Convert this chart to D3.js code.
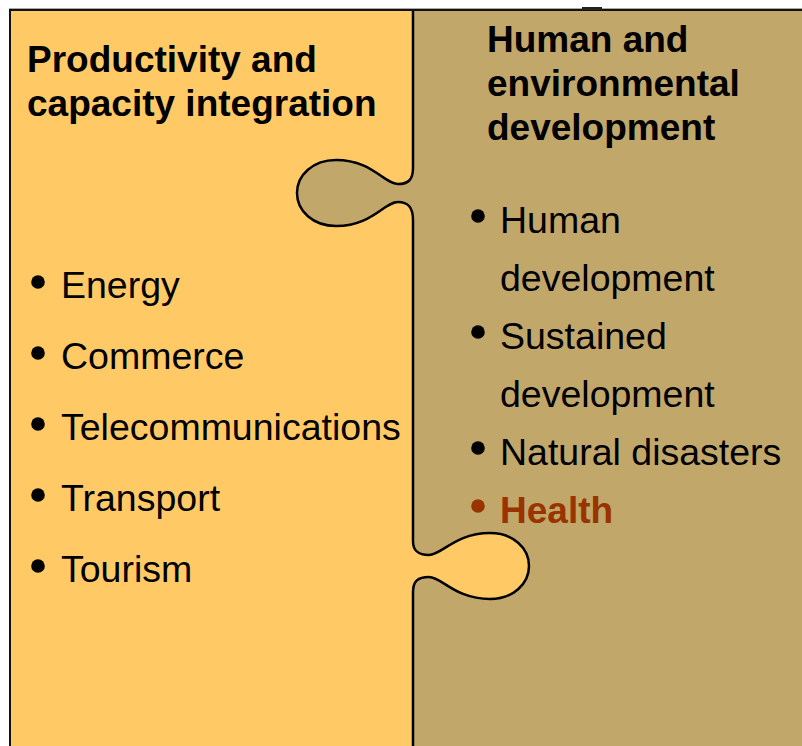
<!DOCTYPE html>
<html>
<head>
<meta charset="utf-8">
<script src="https://cdn.jsdelivr.net/npm/d3@7"></script>
<style>
  body { margin: 0; background: #fff; }
  svg { display: block; }
  text { font-family: "Liberation Sans", Arial, sans-serif; }
</style>
</head>
<body>
<div id="chart"></div>
<script>
// Panel titles
const leftTitle = ["Productivity and", "capacity integration"];
const rightTitle = ["Human and", "environmental", "development"];

// Left list
const leftItems = ["Energy", "Commerce", "Telecommunications", "Transport", "Tourism"];

// Right list (wrapped lines; bullet only on first line of an item)
const rightLines = ["Human", "development", "Sustained", "development", "Natural disasters", "Health"];
const rightBullets = [true, false, true, false, true, true];
const highlighted = ["Health"];

const W = 802, H = 746;
const leftColor = "#FFCA66";
const rightColor = "#C2A76B";
const accent = "#993300";
const titleSize = 37;
const itemSize = 37.5;

const svg = d3.select("#chart")
  .append("svg")
  .attr("width", W)
  .attr("height", H);

// row scales
const leftY = d3.scaleLinear().domain([0, leftItems.length - 1]).range([298, 582]);
const rightY = d3.scaleLinear().domain([0, rightLines.length - 1]).range([233, 523]);
const leftTitleY = d3.scaleLinear().domain([0, 1]).range([72, 116]);
const rightTitleY = d3.scaleLinear().domain([0, 1]).range([52, 96]);

// left panel background
svg.append("rect")
  .attr("x", 10).attr("y", 10)
  .attr("width", W).attr("height", H)
  .attr("fill", leftColor);

// divider with the two puzzle tabs
const divider = d3.path();
divider.moveTo(413, 10);
divider.lineTo(413, 168);
divider.bezierCurveTo(413, 180, 408, 184, 398, 184);
divider.bezierCurveTo(384, 184, 372, 160, 336, 160);
divider.bezierCurveTo(313, 160, 297, 175, 297, 193);
divider.bezierCurveTo(297, 211, 313, 226, 336, 226);
divider.bezierCurveTo(372, 226, 384, 202, 398, 202);
divider.bezierCurveTo(408, 202, 413, 207, 413, 220);
divider.lineTo(413, 541);
divider.bezierCurveTo(413, 551, 418, 555, 429, 555);
divider.bezierCurveTo(442, 555, 455, 533, 490, 533);
divider.bezierCurveTo(513, 533, 529, 548, 529, 566);
divider.bezierCurveTo(529, 584, 513, 599, 490, 599);
divider.bezierCurveTo(455, 599, 442, 577, 429, 577);
divider.bezierCurveTo(418, 577, 413, 581, 413, 592);
divider.lineTo(413, H + 10);
const dividerStr = divider.toString();

// right panel fill
svg.append("path")
  .attr("d", dividerStr + `L${W + 10},${H + 10}L${W + 10},10Z`)
  .attr("fill", rightColor);

svg.append("path")
  .attr("d", dividerStr)
  .attr("fill", "none")
  .attr("stroke", "#000")
  .attr("stroke-width", 2.5);

// frame lines
svg.append("line")
  .attr("x1", 9).attr("x2", W).attr("y1", 8.5).attr("y2", 8.5)
  .attr("stroke", "#aaa").attr("stroke-width", 1);
svg.append("line")
  .attr("x1", 9).attr("x2", W).attr("y1", 10).attr("y2", 10)
  .attr("stroke", "#111").attr("stroke-width", 2);
svg.append("line")
  .attr("x1", 10).attr("x2", 10).attr("y1", 9).attr("y2", H)
  .attr("stroke", "#111").attr("stroke-width", 2);
svg.append("rect")
  .attr("x", 582).attr("y", 7).attr("width", 20).attr("height", 3)
  .attr("fill", "#222");

// titles
svg.append("g").selectAll("text")
  .data(leftTitle)
  .join("text")
  .attr("x", 27)
  .attr("y", (d, i) => leftTitleY(i))
  .attr("font-size", titleSize)
  .attr("font-weight", "bold")
  .attr("fill", "#000")
  .text(d => d);

svg.append("g").selectAll("text")
  .data(rightTitle)
  .join("text")
  .attr("x", 487)
  .attr("y", (d, i) => rightTitleY(i))
  .attr("font-size", titleSize)
  .attr("font-weight", "bold")
  .attr("fill", "#000")
  .text(d => d);

// left bullets
const leftG = svg.append("g");
leftG.selectAll("circle")
  .data(leftItems)
  .join("circle")
  .attr("cx", 38)
  .attr("cy", (d, i) => leftY(i) - 16)
  .attr("r", 6.8)
  .attr("fill", "#000");
leftG.selectAll("text")
  .data(leftItems)
  .join("text")
  .attr("x", 61)
  .attr("y", (d, i) => leftY(i))
  .attr("font-size", itemSize)
  .attr("fill", "#000")
  .text(d => d);

// right bullets
const rightRows = rightLines.map((t, i) => ({ text: t, bullet: rightBullets[i], i, hi: highlighted.includes(t) }));
const rightG = svg.append("g");
rightG.selectAll("circle")
  .data(rightRows.filter(d => d.bullet))
  .join("circle")
  .attr("cx", 478)
  .attr("cy", d => rightY(d.i) - 17)
  .attr("r", 6.8)
  .attr("fill", d => d.hi ? accent : "#000");
rightG.selectAll("text")
  .data(rightRows)
  .join("text")
  .attr("x", 500)
  .attr("y", d => rightY(d.i))
  .attr("font-size", d => d.hi ? titleSize : itemSize)
  .attr("font-weight", d => d.hi ? "bold" : "normal")
  .attr("fill", d => d.hi ? accent : "#000")
  .text(d => d.text);
</script>
</body>
</html>
